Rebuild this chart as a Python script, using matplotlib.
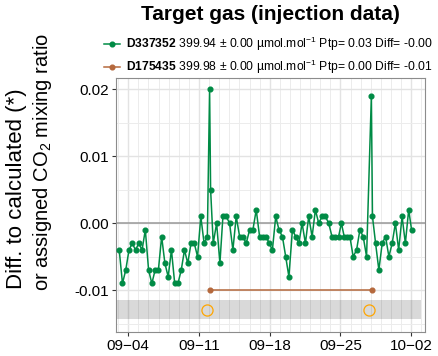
import matplotlib
matplotlib.use("Agg")
import matplotlib.pyplot as plt
import matplotlib.dates as mdates
from matplotlib.lines import Line2D
from matplotlib.ticker import FixedLocator, FormatStrFormatter
import pandas as pd

# ----- Fonts -----
plt.rcParams['font.family'] = ['Liberation Sans', 'DejaVu Sans']
plt.rcParams['mathtext.fontset'] = 'custom'
plt.rcParams['mathtext.rm'] = 'Liberation Sans'
plt.rcParams['mathtext.bf'] = 'Liberation Sans:bold'
plt.rcParams['mathtext.it'] = 'Liberation Sans:italic'
plt.rcParams['axes.unicode_minus'] = False

# ----- Data -----
YEAR = "2023"

# target gas D337352, difference to assigned value
target_times = [
    "09-03 02:36", "09-03 10:21", "09-03 18:06", "09-04 01:51", "09-04 09:36",
    "09-04 17:21", "09-05 01:06", "09-05 08:51", "09-05 16:36", "09-06 00:21",
    "09-06 08:06", "09-06 15:51", "09-06 23:36", "09-07 07:21", "09-07 15:06",
    "09-07 22:51", "09-08 06:36", "09-08 14:21", "09-08 22:06", "09-09 05:51",
    "09-09 13:36", "09-09 21:21", "09-10 05:06", "09-10 12:51", "09-10 20:36",
    "09-11 04:21", "09-11 12:06", "09-11 19:51", "09-12 01:12", "09-12 03:36",
    "09-12 09:48", "09-12 17:54", "09-13 01:42", "09-13 08:48", "09-13 16:36",
    "09-14 00:42", "09-14 08:30", "09-14 16:24", "09-15 00:30", "09-15 08:18",
    "09-15 16:06", "09-16 00:12", "09-16 08:00", "09-16 15:54", "09-16 23:54",
    "09-17 07:48", "09-17 15:36", "09-17 22:42", "09-18 06:18", "09-18 14:12",
    "09-18 22:00", "09-19 06:06", "09-19 13:54", "09-19 21:30", "09-20 05:48",
    "09-20 13:36", "09-20 21:12", "09-21 04:48", "09-21 12:42", "09-21 20:30",
    "09-22 04:36", "09-22 12:24", "09-22 20:12", "09-23 04:18", "09-23 12:06",
    "09-23 20:00", "09-24 03:48", "09-24 11:36", "09-24 19:30", "09-25 02:06",
    "09-25 08:48", "09-25 15:12", "09-25 22:18", "09-26 06:06", "09-26 14:12",
    "09-26 22:00", "09-27 05:54", "09-27 13:54", "09-28 01:18", "09-28 03:54",
    "09-28 11:18", "09-28 19:06", "09-29 03:00", "09-29 11:00", "09-29 18:54",
    "09-30 02:42", "09-30 10:18", "09-30 18:06", "10-01 02:12", "10-01 10:00",
    "10-01 17:54", "10-02 00:48",
]
target_diff = [
    -0.004, -0.009, -0.007, -0.004, -0.003, -0.004, -0.003, -0.004, -0.001, -0.007,
    -0.009, -0.007, -0.007, -0.002, -0.006, -0.008, -0.004, -0.009, -0.009, -0.007,
    -0.004, -0.006, -0.003, -0.003, -0.005, 0.001, -0.003, -0.002, 0.020, 0.005,
    -0.003, 0.000, -0.006, 0.001, 0.001, 0.000, -0.004, 0.001, -0.002, -0.002,
    -0.003, -0.001, -0.001, 0.002, -0.002, -0.002, -0.002, -0.003, -0.004, 0.001,
    -0.001, -0.002, -0.005, -0.008, -0.001, -0.002, -0.003, 0.000, -0.003, 0.001,
    -0.002, 0.002, 0.000, 0.001, 0.001, 0.000, -0.002, -0.002, -0.002, 0.000,
    -0.002, -0.002, -0.002, -0.005, -0.004, -0.001, -0.002, -0.005, 0.019, 0.001,
    -0.003, -0.007, -0.003, -0.002, -0.005, -0.003, 0.000, -0.004, 0.001, -0.003,
    0.002, -0.001,
]

# second target gas D175435
ref_times = ["09-12 02:30", "09-28 02:30"]
ref_diff = [-0.010, -0.010]

# flagged injections (open orange circles)
flag_times = ["09-11 18:48", "09-27 20:06"]
flag_y = [-0.013, -0.013]

# tolerance band
band_lo, band_hi = -0.01437, -0.01149

x_ticks = ["09-04", "09-11", "09-18", "09-25", "10-02"]
y_ticks = [-0.01, 0.00, 0.01, 0.02]
y_minor = [-0.015, -0.005, 0.005, 0.015]
x_range = ["09-02 18:06", "10-03 08:18"]
y_range = (-0.01622, 0.02169)

labels = [
    r"$\mathbf{D337352}$ 399.94 ± 0.00 µmol.mol$^{-1}$ Ptp= 0.03 Diff= -0.00",
    r"$\mathbf{D175435}$ 399.98 ± 0.00 µmol.mol$^{-1}$ Ptp= 0.00 Diff= -0.01",
]
GREEN = '#008B45'
BROWN = '#B5693D'


def to_dt(items):
    return pd.to_datetime([YEAR + "-" + s for s in items])


t_target = to_dt(target_times)
t_ref = to_dt(ref_times)
t_flag = to_dt(flag_times)

# ----- Plot -----
fig = plt.figure(figsize=(4.38, 3.56), dpi=100)
ax = fig.add_axes([0.264, 0.068, 0.706, 0.713])

ax.set_xlim(to_dt(x_range))
ax.set_ylim(*y_range)

ax.xaxis.set_major_locator(FixedLocator(mdates.date2num(to_dt(x_ticks))))
ax.xaxis.set_minor_locator(mdates.DayLocator())
ax.xaxis.set_major_formatter(mdates.DateFormatter('%m\u2212%d'))
ax.yaxis.set_major_locator(FixedLocator(y_ticks))
ax.yaxis.set_minor_locator(FixedLocator(y_minor))
ax.yaxis.set_major_formatter(FormatStrFormatter('%.2f'))

ax.grid(which='major', color='#E3E3E3', lw=1.0, zorder=0)
ax.grid(which='minor', color='#ECECEC', lw=0.7, zorder=0)
ax.set_axisbelow(True)

ax.tick_params(which='major', length=3, width=0.8, color='#333333',
               labelsize=11, labelcolor='black', pad=2)
ax.tick_params(which='minor', length=0)
for s in ax.spines.values():
    s.set_color('#8C8C8C')
    s.set_linewidth(0.8)

ax.axhline(0, color='#999999', lw=1.1, zorder=1.5)
ax.axhspan(band_lo, band_hi, xmin=0.006, xmax=0.987, color='black',
           alpha=0.15, lw=0, zorder=1.2)

ax.plot(t_target, target_diff, '-o', color=GREEN, lw=1.1, ms=3.4, zorder=3)
ax.plot(t_ref, ref_diff, '-o', color=BROWN, lw=1.1, ms=3.4, zorder=3)
ax.plot(t_flag, flag_y, 'o', mfc='none', mec='orange', ms=8, mew=0.9,
        ls='none', zorder=3)

handles = [
    Line2D([], [], color=GREEN, lw=1.1, marker='o', ms=3.4),
    Line2D([], [], color=BROWN, lw=1.1, marker='o', ms=3.4),
]
fig.legend(handles, labels, loc='upper left', bbox_to_anchor=(104 / 438, 1 - 35 / 356),
           frameon=False, fontsize=8.7, handlelength=1.35, handletextpad=0.45,
           labelspacing=0.38, borderaxespad=0, borderpad=0)

fig.text(270 / 438, 1 - 15 / 356, "Target gas (injection data)",
         fontsize=15, fontweight='bold', ha='center', va='center')
fig.text(17 / 438, 1 - 189 / 356, "Diff. to calculated (*)",
         fontsize=16, rotation=90, ha='center', va='center')
fig.text(43 / 438, 1 - 162 / 356, r"or assigned CO$_2$ mixing ratio",
         fontsize=14.5, rotation=90, ha='center', va='center')

fig.savefig('out.png', dpi=100)
